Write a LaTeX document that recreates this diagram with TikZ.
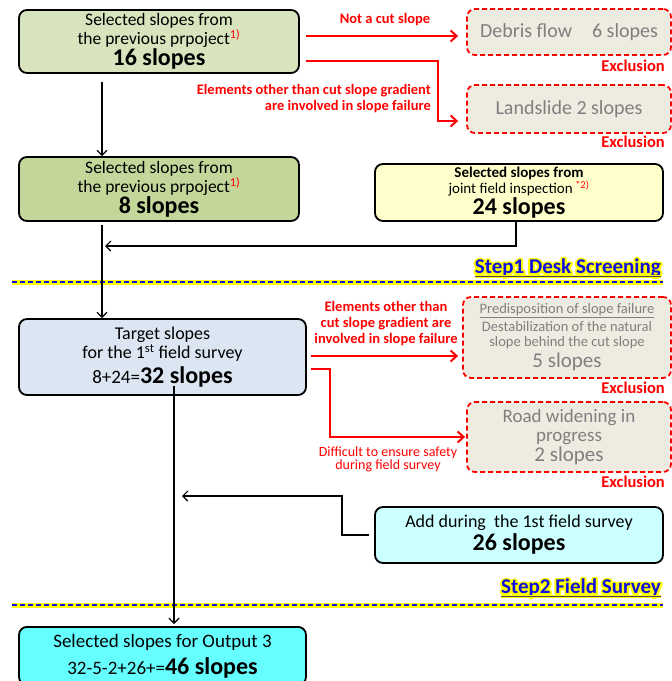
\documentclass[tikz,border=0pt]{standalone}
\usepackage{fontspec}
\setmainfont{Carlito}
\usepackage{xcolor}
\usetikzlibrary{arrows.meta}
\definecolor{prevbg}{HTML}{D7E4BD}
\definecolor{keepbg}{HTML}{C4D79B}
\definecolor{jointbg}{HTML}{FFFFCC}
\definecolor{targbg}{HTML}{DCE6F2}
\definecolor{addbg}{HTML}{CCFFFF}
\definecolor{outbg}{HTML}{66FFFF}
\definecolor{exclbg}{HTML}{EEECE1}
\definecolor{exred}{HTML}{FF0000}
\definecolor{steptxt}{HTML}{1010E0}
\definecolor{glow}{HTML}{FFFF00}
\definecolor{dimtxt}{HTML}{7F7F7F}
\newcommand{\Fz}[2]{\fontsize{#1}{#2}\selectfont}
\newcommand{\Cnt}[1]{{\Fz{24}{24}\bfseries #1}}
\newcommand{\Fnote}[1]{\textsuperscript{\textcolor{exred}{#1}}}
% yellow halo: the same text stroked once in yellow, then set on top
\newcommand{\Step}[1]{\rlap{\special{pdf:literal direct 4 w 1 j 2 Tr}\textcolor{glow}{#1}\special{pdf:literal direct 0 Tr}}#1}
\tikzset{
  slopebox/.style={draw=black,line width=1.8pt,rounded corners=8pt,align=center,inner sep=2pt},
  exbox/.style={draw=exred,fill=exclbg,line width=1.8pt,dash pattern=on 5pt off 3pt,
    rounded corners=8pt,align=center,text=dimtxt,inner sep=2pt},
  flow/.style={draw=black,line width=1.2pt,-{Straight Barb[length=5pt,width=10pt]}},
  cutflow/.style={draw=exred,line width=2pt,-{Straight Barb[length=6pt,width=11pt]}},
  cutlbl/.style={text=exred,font=\Fz{14.5}{16}\bfseries,align=center,inner sep=0pt},
  excl/.style={text=exred,font=\Fz{16.5}{16.5}\bfseries,anchor=east,inner sep=0pt},
  steplbl/.style={text=steptxt,font=\Fz{21}{21}\bfseries,anchor=east,inner sep=0pt},
}

\begin{document}
\begin{tikzpicture}[x=1pt,y=-1pt]
\useasboundingbox (0,0) rectangle (672,681);
\clip (0,0) rectangle (672,681);

% --- step 1 boxes ----------------------------------------------------
\node[slopebox,fill=prevbg,minimum width=280pt,minimum height=63pt,font=\Fz{17.5}{16}]
  (prev16) at (159,41.5) {Selected slopes from\\the previous prpoject\Fnote{1)}\\\Cnt{16 slopes}};
\node[slopebox,fill=keepbg,minimum width=280pt,minimum height=64pt,font=\Fz{17.5}{16}]
  (prev8) at (159,189) {Selected slopes from\\the previous prpoject\Fnote{1)}\\\Cnt{8 slopes}};
\node[slopebox,fill=jointbg,minimum width=288pt,minimum height=57pt,font=\Fz{15}{15}]
  (joint24) at (519,192.5) {\bfseries Selected slopes from\\joint field inspection\,\Fnote{*2)}\\\Cnt{24 slopes}};

% --- step 1 exclusions -----------------------------------------------
\node[exbox,minimum width=204pt,minimum height=46pt,font=\Fz{20}{20}]
  (debris) at (569,32) {Debris flow\quad 6 slopes};
\node[exbox,minimum width=204pt,minimum height=48pt,font=\Fz{20}{20}]
  (landslide) at (569,109) {Landslide 2 slopes};
\node[excl] (excl1) at (665,66) {Exclusion};
\node[excl] (excl2) at (665,142) {Exclusion};
\node[cutlbl] (notcut) at (385,20) {Not a cut slope};
\node[cutlbl,align=right,anchor=east] (elem1) at (431,99)
  {Elements other than cut slope gradient\\are involved in slope failure};

% --- step 2 boxes ----------------------------------------------------
\node[slopebox,fill=targbg,minimum width=287pt,minimum height=76pt,font=\Fz{18}{19}]
  (target32) at (162.5,357) {Target slopes\\for the 1\textsuperscript{st} field survey\\[4pt]{\Fz{19}{19}8+24=}\Cnt{32 slopes}};
\node[slopebox,fill=addbg,minimum width=288pt,minimum height=56pt,font=\Fz{18}{18}]
  (add26) at (519,535) {Add during\ \ the 1st field survey\\[2pt]\Cnt{26 slopes}};
\node[slopebox,fill=outbg,minimum width=287pt,minimum height=58pt,font=\Fz{19}{19},anchor=north]
  (out46) at (162.5,626) {Selected slopes for Output 3\\[6pt]32-5-2+26+=\Cnt{46 slopes}};

% --- step 2 exclusions -----------------------------------------------
\node[exbox,minimum width=208pt,minimum height=81pt,font=\Fz{14.5}{15}]
  (predis) at (567,337.5) {\underline{Predisposition of slope failure}\\[3pt]Destabilization of the natural\\slope behind the cut slope\\[3pt]{\Fz{21}{21}5 slopes}};
\node[exbox,minimum width=204pt,minimum height=70pt,font=\Fz{19}{19}]
  (road) at (569,437) {Road widening in\\progress\\[1pt]{\Fz{21}{21}2 slopes}};
\node[excl] (excl3) at (665,388) {Exclusion};
\node[excl] (excl4) at (665,482) {Exclusion};
\node[cutlbl] (elem2) at (386,324) {Elements other than\\cut slope gradient are\\involved in slope failure};
\node[cutlbl,font=\Fz{14}{13.5}] (unsafe) at (388,459.5) {Difficult to ensure safety\\during field survey};

% --- step labels and separators --------------------------------------
\node[steplbl] (step1) at (661,268) {\Step{Step1 Desk Screening}};
\node[steplbl] (step2) at (661,588) {\Step{Step2 Field Survey}};
\foreach \s in {step1,step2}{
  \draw[glow,line width=3pt] ([yshift=-2.5pt]\s.base west) -- ([yshift=-2.5pt]\s.base east);
  \draw[black!70,line width=1pt] ([yshift=-2.5pt]\s.base west) -- ([yshift=-2.5pt]\s.base east);
}
\foreach \y in {282,605}{
  \draw[glow,line width=5pt] (12,\y) -- (663,\y);
  \draw[steptxt,line width=1.6pt,dash pattern=on 5pt off 3pt] (12,\y) -- (663,\y);
}

% --- black connectors ------------------------------------------------
\coordinate (deskx) at (102,0);
\coordinate (fieldx) at (174,0);
\coordinate (deskjoin) at (102,246);
\coordinate (fieldtop) at (174,386);
\coordinate (addbend) at (342,496);
\draw[flow,shorten <=8pt] (prev16.south -| deskx) -- (prev8.north -| deskx);
\draw[flow,shorten <=3pt] (prev8.south -| deskx) -- (target32.north -| deskx);
\draw[flow,shorten >=3pt] ([xshift=-3pt]joint24.south) |- (deskjoin);
\draw[flow,shorten >=2pt] (fieldtop) -- (out46.north -| fieldx);
\draw[flow,shorten <=5pt,shorten >=8pt] (add26.west) -| (addbend) -- (addbend -| fieldx);

% --- red connectors --------------------------------------------------
\coordinate (cut1) at ([xshift=6pt,yshift=5.5pt]prev16.east);
\coordinate (cut2) at ([xshift=6pt,yshift=-19.5pt]prev16.east);
\coordinate (cut2b) at (438,121);
\coordinate (cut3) at ([xshift=4pt,yshift=1pt]target32.east);
\coordinate (cut4) at ([xshift=4pt,yshift=-12pt]target32.east);
\coordinate (cut4b) at (330,437);
\draw[cutflow,shorten >=8pt] (cut1) -- (cut1 -| debris.west);
\draw[cutflow,shorten >=8pt] (cut2) -| (cut2b) -- (cut2b -| landslide.west);
\draw[cutflow,shorten >=4pt] (cut3) -- (cut3 -| predis.west);
\draw[cutflow,shorten >=1pt] (cut4) -| (cut4b) -- (cut4b -| road.west);

\end{tikzpicture}
\end{document}
